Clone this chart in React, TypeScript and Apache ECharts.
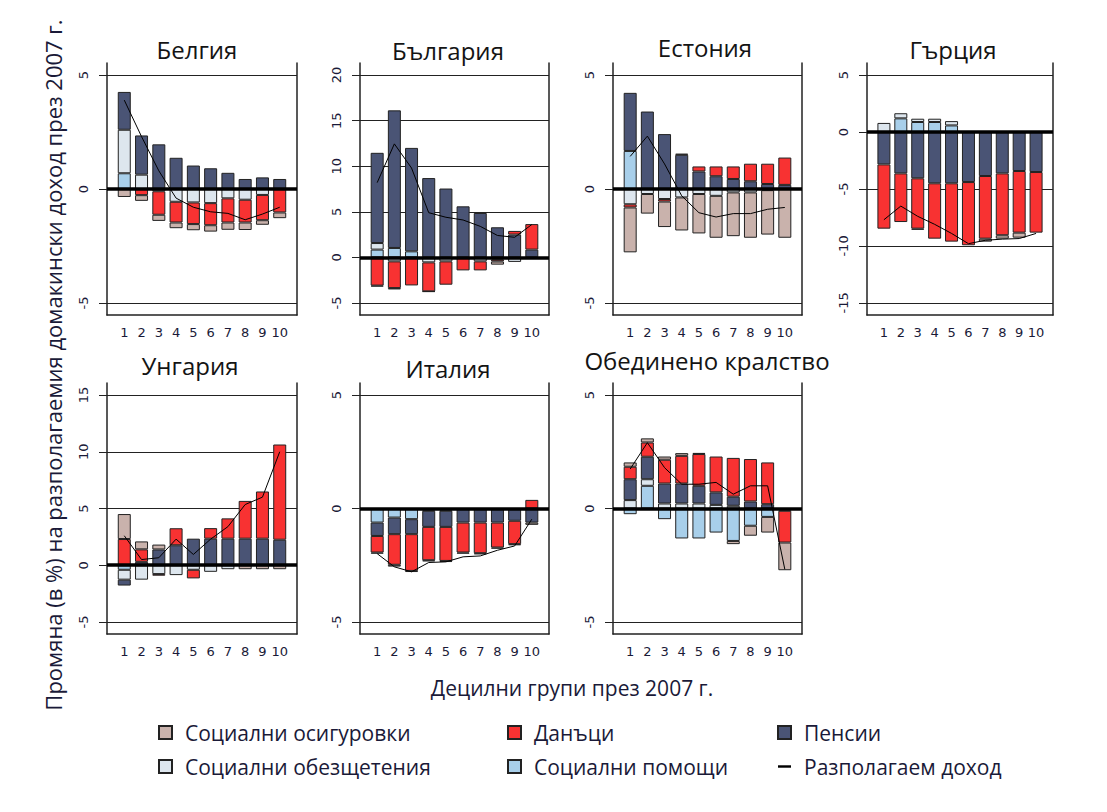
import React, { useEffect, useRef } from 'react';
import * as echarts from 'echarts';

// ---------- categories & labels ----------
const deciles = ['1', '2', '3', '4', '5', '6', '7', '8', '9', '10'];
const countries = ['Белгия', 'България', 'Естония', 'Гърция', 'Унгария', 'Италия', 'Обединено кралство'];
const componentNames = ['Социални помощи', 'Социални обезщетения', 'Пенсии', 'Данъци', 'Социални осигуровки'];
const lineName = 'Разполагаем доход';
const yTitle = 'Промяна (в %) на разполагаемия домакински доход през 2007 г.';
const xTitle = 'Децилни групи през 2007 г.';

// ---------- tick values ----------
const ticksBE = [-5, 0, 5];
const ticksBG = [-5, 0, 5, 10, 15, 20];
const ticksEE = [-5, 0, 5];
const ticksGR = [-15, -10, -5, 0, 5];
const ticksHU = [-5, 0, 5, 10, 15];
const ticksIT = [-5, 0, 5];
const ticksUK = [-5, 0, 5];

// ---------- Белгия ----------
const beAssist = [0.69, 0, 0, 0, 0, 0, 0, 0, 0, 0];
const beBenefits = [1.91, 0.63, -0.1, -0.56, -0.59, -0.62, -0.41, -0.47, -0.26, 0];
const bePensions = [1.66, 1.72, 1.96, 1.37, 1.03, 0.91, 0.71, 0.44, 0.51, 0.44];
const beTaxes = [0, -0.27, -1.03, -0.91, -0.95, -0.97, -1.06, -1.0, -1.11, -1.03];
const beInsurance = [-0.35, -0.25, -0.27, -0.25, -0.27, -0.28, -0.32, -0.33, -0.2, -0.25];
const beIncome = [3.9, 2.3, 0.8, -0.4, -0.8, -1.0, -1.07, -1.35, -1.1, -0.8];

// ---------- България ----------
const bgAssist = [0.85, 1.03, 0.66, 0, 0, 0, 0, 0, 0, 0];
const bgBenefits = [0.72, -0.44, 0, -0.55, -0.44, 0, -0.44, -0.25, -0.5, 0];
const bgPensions = [9.9, 15.1, 11.35, 8.7, 7.55, 5.6, 4.87, 3.3, 2.5, 0.85];
const bgTaxes = [-3.1, -2.93, -3.08, -3.18, -2.56, -1.43, -0.99, -0.2, 0.4, 2.8];
const bgInsurance = [-0.1, -0.15, 0, -0.05, 0, 0, 0, -0.35, 0, 0];
const bgIncome = [8.2, 12.45, 9.8, 4.9, 4.4, 4.1, 3.4, 2.4, 2.2, 3.6];

// ---------- Естония ----------
const eeAssist = [1.67, 0, 0, 0, 0, 0, 0, 0, 0, 0];
const eeBenefits = [-0.67, -0.22, -0.44, -0.37, -0.22, -0.3, -0.15, -0.15, -0.05, 0];
const eePensions = [2.55, 3.4, 2.41, 1.5, 0.77, 0.56, 0.44, 0.34, 0.22, 0.18];
const eeTaxes = [-0.14, 0, -0.11, 0.05, 0.22, 0.43, 0.55, 0.77, 0.89, 1.2];
const eeInsurance = [-1.97, -0.86, -1.12, -1.45, -1.73, -1.84, -1.92, -1.99, -1.95, -2.14];
const eeIncome = [1.43, 2.32, 1.1, -0.3, -1.04, -1.23, -1.08, -1.08, -0.89, -0.81];

// ---------- Гърция ----------
const grAssist = [0, 1.2, 0.88, 0.88, 0.58, 0, 0, 0, 0, 0];
const grBenefits = [0.8, 0.45, 0.29, 0.29, 0.38, 0, 0, 0, 0, 0];
const grPensions = [-2.84, -3.63, -4.06, -4.5, -4.5, -4.39, -3.86, -3.63, -3.42, -3.51];
const grTaxes = [-5.64, -4.27, -4.42, -4.86, -5.12, -5.55, -5.5, -5.43, -5.41, -5.32];
const grInsurance = [0, 0, -0.1, 0, 0, 0, -0.26, -0.3, -0.44, 0];
const grIncome = [-7.7, -6.5, -7.4, -8.1, -8.9, -9.8, -9.5, -9.4, -9.35, -8.9];

// ---------- Унгария ----------
const huAssist = [-0.4, 0, 0, 0, 0, 0, 0, 0, 0, 0];
const huBenefits = [-0.87, -1.27, -0.78, -0.87, -0.4, -0.58, -0.35, 0, 0, 0];
const huPensions = [-0.52, 0.3, 1.39, 1.76, 2.34, 2.34, 2.34, 2.34, 2.34, 2.25];
const huTaxes = [2.31, 1.1, -0.14, 1.5, -0.76, 0.93, 1.79, 3.33, 4.16, 8.39];
const huInsurance = [2.2, 0.7, 0.43, 0, 0, 0, 0, -0.35, -0.35, -0.35];
const huIncome = [2.6, 0.5, 0.66, 2.3, 0.95, 2.3, 3.4, 5.35, 6.0, 10.0];

// ---------- Италия ----------
const itAssist = [-0.62, -0.4, -0.47, 0, 0, 0, 0, 0, 0, 0];
const itBenefits = [0, 0, 0, -0.1, -0.1, 0, 0, 0, 0, 0];
const itPensions = [-0.59, -0.73, -0.66, -0.71, -0.71, -0.62, -0.62, -0.62, -0.54, -0.62];
const itTaxes = [-0.73, -1.35, -1.62, -1.47, -1.5, -1.32, -1.35, -1.1, -1.03, 0.38];
const itInsurance = [-0.05, -0.08, -0.05, -0.05, -0.05, -0.05, -0.05, -0.05, -0.05, -0.1];
const itIncome = [-1.99, -2.57, -2.79, -2.38, -2.35, -2.13, -2.09, -1.84, -1.65, -0.47];

// ---------- Обединено кралство ----------
const ukAssist = [-0.25, 1.0, -0.47, -1.32, -1.32, -1.06, -1.43, -0.76, -0.37, -0.1];
const ukBenefits = [0.37, 0.29, 0.22, 0.22, 0.22, 0.16, 0.12, 0, 0, 0];
const ukPensions = [0.92, 0.99, 0.88, 0.88, 0.78, 0.55, 0.4, 0.31, 0.19, 0];
const ukTaxes = [0.55, 0.63, 1.05, 1.22, 1.4, 1.58, 1.71, 1.87, 1.84, -1.4];
const ukInsurance = [0.19, 0.18, 0.14, 0.12, 0.05, 0, -0.14, -0.44, -0.69, -1.22];
const ukIncome = [1.74, 2.9, 1.8, 1.07, 1.07, 1.15, 0.63, 1.0, 1.0, -2.68];

const panels = [
  { comps: [beAssist, beBenefits, bePensions, beTaxes, beInsurance], line: beIncome, ticks: ticksBE },
  { comps: [bgAssist, bgBenefits, bgPensions, bgTaxes, bgInsurance], line: bgIncome, ticks: ticksBG },
  { comps: [eeAssist, eeBenefits, eePensions, eeTaxes, eeInsurance], line: eeIncome, ticks: ticksEE },
  { comps: [grAssist, grBenefits, grPensions, grTaxes, grInsurance], line: grIncome, ticks: ticksGR },
  { comps: [huAssist, huBenefits, huPensions, huTaxes, huInsurance], line: huIncome, ticks: ticksHU },
  { comps: [itAssist, itBenefits, itPensions, itTaxes, itInsurance], line: itIncome, ticks: ticksIT },
  { comps: [ukAssist, ukBenefits, ukPensions, ukTaxes, ukInsurance], line: ukIncome, ticks: ticksUK },
];

// ---------- layout & style ----------
const layout = [
  { left: 107, top: 63, width: 190, height: 252, tx: 197, ty: 37 },
  { left: 360, top: 63, width: 189, height: 252, tx: 448, ty: 38 },
  { left: 613, top: 63, width: 189, height: 252, tx: 705, ty: 35 },
  { left: 867, top: 63, width: 186, height: 252, tx: 953, ty: 37 },
  { left: 107, top: 383, width: 190, height: 251, tx: 190, ty: 353 },
  { left: 360, top: 383, width: 189, height: 251, tx: 448, ty: 356 },
  { left: 613, top: 383, width: 189, height: 251, tx: 707, ty: 348 },
];
const colors = ['#a8cfea', '#dde6ee', '#4a5475', '#f83232', '#c9b2ac'];
const textColor = '#1a1a38';
const frameColor = '#222';
const mainFont = 'Open Sans';
const tickFont = 'DejaVu Sans';

function buildOption() {
  const grid: any[] = [];
  const xAxis: any[] = [];
  const yAxis: any[] = [];
  const series: any[] = [];
  const title: any[] = [];
  const cats = ['', ...deciles, ''];

  panels.forEach((p, i) => {
    const L = layout[i];
    grid.push({ left: L.left, top: L.top, width: L.width, height: L.height, containLabel: false });
    const first = p.ticks[0];
    const last = p.ticks[p.ticks.length - 1];
    const pad = (last - first) * 0.053;
    const min = first - pad;
    const max = last + pad;
    xAxis.push({
      gridIndex: i,
      type: 'category',
      data: cats,
      boundaryGap: false,
      axisLine: { show: true, onZero: false, lineStyle: { color: frameColor, width: 1.5 } },
      axisTick: { show: false },
      axisLabel: { interval: 0, fontSize: 13, fontFamily: tickFont, color: textColor, margin: 11 },
      splitLine: { show: false },
    });
    yAxis.push({
      gridIndex: i,
      type: 'value',
      position: 'left',
      min,
      max,
      minInterval: 5,
      maxInterval: 5,
      splitNumber: p.ticks.length - 1,
      axisLine: { show: true, onZero: false, lineStyle: { color: frameColor, width: 1.5 } },
      axisTick: { show: true, length: 8, customValues: p.ticks, lineStyle: { color: frameColor } },
      axisLabel: {
        customValues: p.ticks,
        rotate: 90,
        margin: 17,
        fontSize: 13,
        fontFamily: tickFont,
        color: textColor,
      },
      splitLine: { show: true, lineStyle: { color: frameColor, width: 1 } },
    });
    yAxis.push({
      gridIndex: i,
      type: 'value',
      position: 'right',
      min,
      max,
      axisLine: { show: true, onZero: false, lineStyle: { color: frameColor, width: 1.5 } },
      axisTick: { show: false },
      axisLabel: { show: false },
      splitLine: { show: false },
    });
    p.comps.forEach((vals, j) => {
      series.push({
        type: 'bar',
        name: componentNames[j],
        xAxisIndex: i,
        yAxisIndex: 2 * i,
        stack: 'panel' + i,
        barWidth: 13,
        data: [null, ...vals.map((v) => (v === 0 ? null : v)), null],
        itemStyle: { color: colors[j], borderColor: frameColor, borderWidth: 1 },
        z: 2,
      });
    });
    series.push({
      type: 'line',
      name: lineName,
      xAxisIndex: i,
      yAxisIndex: 2 * i,
      data: [null, ...p.line, null],
      symbol: 'none',
      showSymbol: false,
      lineStyle: { color: '#000', width: 1 },
      itemStyle: { color: '#000' },
      z: 5,
      markLine: {
        silent: true,
        symbol: 'none',
        label: { show: false },
        lineStyle: { color: '#000', width: 3.5, type: 'solid' },
        data: [{ yAxis: 0 }],
      },
    });
    title.push({
      text: countries[i],
      left: L.tx,
      top: L.ty,
      textAlign: 'center',
      padding: 0,
      textStyle: { fontSize: 24, fontWeight: 'normal', fontFamily: mainFont, color: '#141414' },
    });
  });

  const legendCommon = {
    orient: 'vertical',
    top: 722,
    padding: 0,
    itemGap: 13,
    itemWidth: 13,
    itemHeight: 13,
    icon: 'rect',
    selectedMode: false,
    textStyle: { fontSize: 21, fontFamily: mainFont, color: textColor, padding: [0, 0, 0, 8] },
  };

  return {
    animation: false,
    backgroundColor: '#fff',
    title,
    grid,
    xAxis,
    yAxis,
    series,
    legend: [
      { ...legendCommon, left: 158, data: [componentNames[4], componentNames[1]] },
      { ...legendCommon, left: 507, data: [componentNames[3], componentNames[0]] },
      {
        ...legendCommon,
        left: 777,
        data: [
          { name: componentNames[2], icon: 'rect' },
          { name: lineName, icon: 'path://M0,0 L16,0 L16,3 L0,3 Z', itemStyle: { color: '#000', borderWidth: 0 } },
        ],
      },
    ],
    graphic: [
      {
        type: 'text',
        x: 53,
        y: 365,
        rotation: Math.PI / 2,
        style: { text: yTitle, fontSize: 22, fontFamily: mainFont, fill: textColor, align: 'center', verticalAlign: 'middle' },
      },
      {
        type: 'text',
        x: 572,
        y: 688,
        style: { text: xTitle, fontSize: 21, fontFamily: mainFont, fill: textColor, align: 'center', verticalAlign: 'middle' },
      },
    ],
  };
}

export default function App() {
  const ref = useRef<HTMLDivElement>(null);
  useEffect(() => {
    if (!ref.current) return;
    const chart = echarts.init(ref.current, undefined, { renderer: 'svg' });
    chart.setOption(buildOption() as any);
    return () => chart.dispose();
  }, []);
  return <div ref={ref} style={{ position: 'absolute', left: 0, top: 0, width: 1107, height: 812 }} />;
}
